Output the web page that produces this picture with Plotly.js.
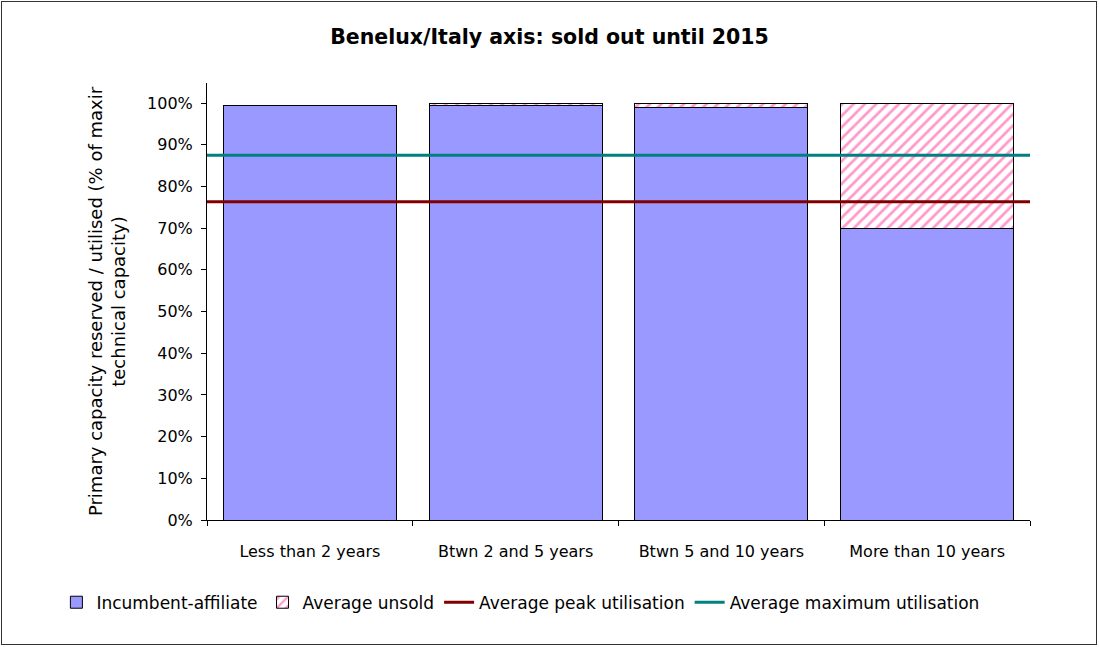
<!DOCTYPE html>
<html>
<head>
<meta charset="utf-8">
<script src="https://cdn.plot.ly/plotly-3.0.1.min.js"></script>
<style>
  body { margin: 0; padding: 0; background: #fff; }
  #chart { position: absolute; left: 0; top: 0; width: 1099px; height: 647px; }
  #frame { position: absolute; left: 1px; top: 1px; width: 1094px; height: 642px; border: 1px solid #333; pointer-events: none; }
</style>
</head>
<body>
<div id="chart"></div>
<div id="frame"></div>
<script>
const categories = ["Less than 2 years", "Btwn 2 and 5 years", "Btwn 5 and 10 years", "More than 10 years"];
const incumbentAffiliate = [99.5, 99.5, 99.0, 70.0];
const averageUnsold = [0.0, 0.5, 1.0, 30.0];
const averagePeakUtilisation = 76.3;
const averageMaximumUtilisation = 87.5;
const yTickValues = [0, 10, 20, 30, 40, 50, 60, 70, 80, 90, 100];
const yTickLabels = yTickValues.map(v => v + "%");

const font = "'DejaVu Sans', Arial, sans-serif";

const traces = [
  {
    type: "bar", name: "Incumbent-affiliate", x: categories, y: incumbentAffiliate,
    width: 0.84,
    marker: { color: "#9999ff", line: { color: "#000", width: 1 } },
    hoverinfo: "y"
  },
  {
    type: "bar", name: "Average unsold", x: categories, y: averageUnsold,
    width: 0.84,
    marker: {
      color: "#ffffff",
      line: { color: "#000", width: 1 },
      pattern: { shape: "/", fgcolor: "#ff99cc", bgcolor: "#ffffff", size: 8, solidity: 0.35 }
    },
    hoverinfo: "y"
  },
  {
    type: "scatter", mode: "lines", name: "Average peak utilisation",
    x: [-0.5, 3.5], y: [averagePeakUtilisation, averagePeakUtilisation],
    xaxis: "x2", line: { color: "#800000", width: 3 }
  },
  {
    type: "scatter", mode: "lines", name: "Average maximum utilisation",
    x: [-0.5, 3.5], y: [averageMaximumUtilisation, averageMaximumUtilisation],
    xaxis: "x2", line: { color: "#008080", width: 3 }
  }
];

const layout = {
  width: 1099, height: 647,
  paper_bgcolor: "#fff", plot_bgcolor: "#fff",
  margin: { l: 207, r: 69, t: 83, b: 127 },
  barmode: "stack",
  font: { family: font, size: 16, color: "#000" },
  title: {
    text: "<b>Benelux/Italy axis: sold out until 2015</b>",
    font: { family: font, size: 20.5, color: "#000" },
    x: 0.5, xanchor: "center", y: 0.943, yanchor: "middle"
  },
  xaxis: {
    type: "category",
    tickson: "boundaries",
    ticks: "outside", ticklen: 5, tickcolor: "#000",
    showline: true, linecolor: "#000", linewidth: 1,
    showgrid: false, zeroline: false,
    tickfont: { family: font, size: 16 },
    ticklabelstandoff: 17,
    range: [-0.5, 3.5]
  },
  xaxis2: {
    overlaying: "x", range: [-0.5, 3.5], visible: false, fixedrange: true
  },
  yaxis: {
    range: [0, 104.8],
    tickvals: yTickValues, ticktext: yTickLabels,
    ticks: "outside", ticklen: 5, tickcolor: "#000",
    showline: true, linecolor: "#000", linewidth: 1,
    showgrid: false, zeroline: false,
    tickfont: { family: font, size: 16 },
    ticklabelstandoff: 5,
    title: {
      text: "Primary capacity reserved / utilised (% of maxir<br>technical capacity)",
      font: { family: font, size: 18 },
      standoff: 16
    }
  },
  showlegend: true,
  legend: {
    orientation: "h", x: -0.183, xanchor: "left", y: -0.148, yanchor: "top",
    font: { family: font, size: 17 },
    traceorder: "normal",
    itemwidth: 30
  },
  bargap: 0.16
};

Plotly.newPlot("chart", traces, layout, { displayModeBar: false, staticPlot: true });
</script>
</body>
</html>
